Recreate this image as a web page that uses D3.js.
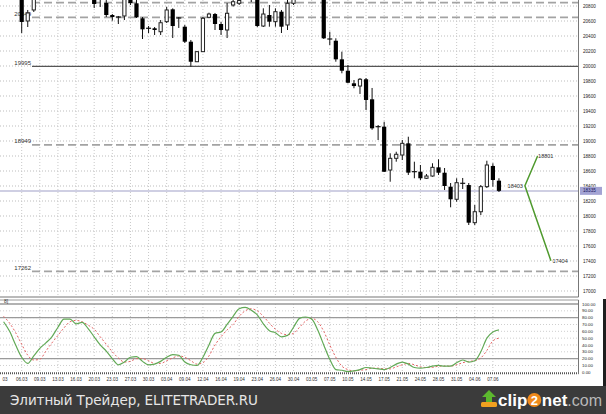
<!DOCTYPE html>
<html><head><meta charset="utf-8">
<script src="https://cdn.jsdelivr.net/npm/d3@7"></script>
<style>html,body{margin:0;padding:0;background:#fff;}svg{display:block;}</style>
</head><body>
<svg id="c" width="606" height="414"></svg>
<script>
// ---------- DATA (bar index 0..82; null = bar outside the visible price range) ----------
const openV  = [null,null,null,20950,20600,20747,null,null,null,null,null,null,null,null,null,20920,20930,20840,20680,20653,20667,20950,20836,20636,20503,20503,20457,20591,20756,20640,20524,20324,20057,20191,20649,20693,20560,20480,20813,20836,null,20950,20930,20533,20680,20591,20724,20547,20836,null,null,null,null,21000,20360,20337,20089,19937,19769,19733,19823,19556,19191,19191,18613,18769,18813,18969,18591,18591,18503,18533,18649,18577,18391,18223,18436,18413,17911,18057,18391,18667,18471];
const highV  = [null,null,null,21000,20747,20950,null,null,null,null,null,null,null,null,null,20960,20960,20880,20693,20667,20940,20980,20880,20653,20533,20520,20613,20787,20769,20653,20547,20347,20200,20653,20711,20707,20587,20840,20880,20900,null,20980,20960,20769,20813,20769,20747,20880,20920,null,null,null,null,21050,20457,20369,20191,20013,19813,19840,19840,19707,19213,19257,18836,18857,19013,19057,18724,18680,18560,18703,18756,18640,18440,18503,18507,18440,18147,18413,18737,18703,18503];
const lowV   = [null,null,null,20440,20520,20720,null,null,null,null,null,null,null,null,null,20773,20787,20653,20604,20560,20613,20813,20640,20360,20440,20413,20413,20573,20373,20507,20307,19991,20053,20187,20636,20480,20413,20373,20791,20813,null,20853,20520,20520,20524,20524,20440,20480,20813,null,null,null,null,20360,20280,20057,19903,19769,19703,19627,19413,19150,19013,18587,18457,18724,18747,18547,18503,18480,18493,18524,18547,18347,18116,18191,18360,17880,17880,18013,18373,18391,18320];
const closeV = [null,null,null,20587,20707,20900,null,null,null,null,null,null,null,null,null,20827,20900,20680,20653,20647,20900,20840,20649,20489,20496,20480,20577,20747,20533,20633,20324,20057,20191,20636,20693,20560,20480,20703,20857,20873,null,20920,20533,20693,20591,20724,20524,20836,20890,null,null,null,null,20369,20353,20089,19937,19777,19733,19823,19547,19169,19197,18590,18769,18823,18969,18578,18583,18503,18533,18649,18577,18400,18223,18444,18429,17911,18057,18391,18680,18480,18335];

const stochMain = [74,60,40,22,13,24,35,43,52,66, 78,78,71,73,64,52,40,31,20,11, 15,22,23,16,11,12,16,22,26,25, 15,11,10,22,40,57,59,70,82,93, 95,91,84,71,61,58,52,54,66,79, 81,78,62,40,19,4,3,1,2,4, 7,6,5,4,7,12,15,12,7,6, 7,9,10,9,9,14,18,15,17,30, 50,59,62];
const stochSignal = [82,72,58,41,25,18,19,31,43,54, 65,74,76,74,69,63,52,41,30,21, 15,16,20,20,17,13,13,17,21,24, 22,17,12,14,24,40,52,62,70,82, 90,93,90,82,72,63,57,55,57,66, 75,79,74,60,40,22,9,4,2,3, 4,6,6,5,5,8,11,13,11,8, 7,7,9,9,9,11,14,16,17,21, 32,46,50];

// date labels, one every 3 bars starting at bar 0 (first one is shown truncated in the source)
const dateLabels = ["03","06.03","09.03","13.03","16.03","20.03","23.03","27.03","30.03","03.04","09.04","12.04","16.04","19.04","23.04","26.04","30.04","03.05","07.05","10.05","14.05","17.05","21.05","24.05","28.05","31.05","04.06","07.06"];
const priceTicks = [17000,17200,17400,17600,17800,18000,18200,18400,18600,18800,19000,19200,19400,19600,19800,20000,20200,20400,20600,20800];
const stochTicks = [0,10,20,30,40,50,60,70,80,90,100];
const stochLevels = [20,80];
const dashedLevels = [20844,20649,18949,17262];
const dashedLabels = ["","20649","18949","17262"];
const solidLevels = [19995];
const currentPrice = 18335;
const projBars = [86.3, 88.4, 90.6];
const projValues = [18403, 18801, 17404];

// ---------- SCALES ----------
const svg = d3.select("#c");
const FONT = "Liberation Sans, Arial, sans-serif";
const x = d3.scaleLinear().domain([3, 81]).range([21.7, 492.9]);
const y = d3.scaleLinear().domain([17000, 20000]).range([291, 66]);
const ys = d3.scaleLinear().domain([0, 100]).range([372.3, 304]);
const PR = 578.5; // plot right edge

svg.append("rect").attr("width",606).attr("height",414).attr("fill","#fff");

const defs = svg.append("defs");
defs.append("clipPath").attr("id","mainClip").append("rect").attr("x",0).attr("y",0).attr("width",PR).attr("height",296);
defs.append("clipPath").attr("id","subClip").append("rect").attr("x",0).attr("y",300).attr("width",PR).attr("height",74);

const main = svg.append("g").attr("clip-path","url(#mainClip)");

// grid
main.selectAll(".hg").data(priceTicks).join("line")
  .attr("x1",0).attr("x2",PR).attr("y1",d=>y(d)).attr("y2",d=>y(d))
  .attr("stroke","#bdbdbd").attr("stroke-width",1).attr("stroke-dasharray","1,2");
const tickBars = dateLabels.map((d,i)=>i*3);
main.selectAll(".vg").data(tickBars.slice(1)).join("line")
  .attr("x1",d=>x(d)).attr("x2",d=>x(d)).attr("y1",0).attr("y2",296)
  .attr("stroke","#c8c8c8").attr("stroke-width",1).attr("stroke-dasharray","1,2");

// current price line
main.append("line").attr("x1",0).attr("x2",PR).attr("y1",y(currentPrice)).attr("y2",y(currentPrice))
  .attr("stroke","#cfcfe3").attr("stroke-width",2);

// level lines
main.selectAll(".dl").data(dashedLevels).join("line")
  .attr("x1",32).attr("x2",PR).attr("y1",d=>y(d)).attr("y2",d=>y(d))
  .attr("stroke","#a3a3a3").attr("stroke-width",1.8).attr("stroke-dasharray","8,4");
main.selectAll(".sl").data(solidLevels).join("line")
  .attr("x1",32).attr("x2",PR).attr("y1",d=>y(d)).attr("y2",d=>y(d))
  .attr("stroke","#555").attr("stroke-width",1.2);
main.selectAll(".dlt").data(dashedLevels).join("text")
  .attr("x",31).attr("y",d=>y(d)-1.8).attr("text-anchor","end")
  .attr("font-family",FONT).attr("font-size",6).attr("fill","#333").text((d,i)=>dashedLabels[i]);
main.selectAll(".slt").data(solidLevels).join("text")
  .attr("x",31).attr("y",d=>y(d)-1.8).attr("text-anchor","end")
  .attr("font-family",FONT).attr("font-size",6).attr("fill","#333").text(d=>d);

// candles
const candles = d3.range(openV.length).filter(i=>openV[i]!=null)
  .map(i=>({k:i,o:openV[i],h:highV[i],l:lowV[i],c:closeV[i]}));
const cg = main.append("g");
cg.selectAll(".wick").data(candles).join("line")
  .attr("x1",d=>x(d.k)).attr("x2",d=>x(d.k)).attr("y1",d=>y(d.h)).attr("y2",d=>y(d.l))
  .attr("stroke","#111").attr("stroke-width",1);
candles.forEach(d=>{
  const yo=y(d.o), yc=y(d.c), cx=x(d.k);
  if (Math.abs(yo-yc) < 1.2) {
    cg.append("line").attr("x1",cx-2.5).attr("x2",cx+2.5).attr("y1",yo).attr("y2",yo)
      .attr("stroke","#111").attr("stroke-width",1.2);
  } else if (d.c > d.o) {
    cg.append("rect").attr("x",cx-1.6).attr("y",yc).attr("width",3.2).attr("height",yo-yc)
      .attr("fill","#fff").attr("stroke","#222").attr("stroke-width",1);
  } else {
    cg.append("rect").attr("x",cx-2.1).attr("y",yo).attr("width",4.2).attr("height",yc-yo)
      .attr("fill","#000");
  }
});

// projection lines
const proj = projBars.map((b,i)=>({b:b,v:projValues[i]}));
const pline = d3.line().x(d=>x(d.b)).y(d=>y(d.v));
main.append("path").attr("d",pline([proj[1],proj[0],proj[2]]))
  .attr("fill","none").attr("stroke","#4f9a2e").attr("stroke-width",1.5);
main.append("text").attr("x",x(proj[0].b)-2).attr("y",y(proj[0].v)+2).attr("text-anchor","end")
  .attr("font-family",FONT).attr("font-size",5.5).attr("fill","#333").text(proj[0].v);
main.append("text").attr("x",x(proj[1].b)+0.5).attr("y",y(proj[1].v)+2)
  .attr("font-family",FONT).attr("font-size",5.5).attr("fill","#333").text(proj[1].v);
main.append("text").attr("x",x(proj[2].b)+1.5).attr("y",y(proj[2].v)+2)
  .attr("font-family",FONT).attr("font-size",5.5).attr("fill","#333").text(proj[2].v);

// right price axis
svg.append("line").attr("x1",PR).attr("x2",PR).attr("y1",0).attr("y2",297).attr("stroke","#777").attr("stroke-width",1);
svg.selectAll(".pt").data(priceTicks).join("text")
  .attr("x",583).attr("y",d=>y(d)+1.6)
  .attr("font-family",FONT).attr("font-size",4.6).attr("fill","#222").text(d=>d);
svg.append("rect").attr("x",580).attr("y",y(currentPrice)-4).attr("width",22).attr("height",8).attr("fill","#a3a3d3");
svg.append("text").attr("x",583).attr("y",y(currentPrice)+1.6)
  .attr("font-family",FONT).attr("font-size",4.6).attr("fill","#14145a").text(currentPrice);

// separators
svg.append("line").attr("x1",0).attr("x2",PR).attr("y1",297).attr("y2",297).attr("stroke","#777").attr("stroke-width",1.2);
svg.append("line").attr("x1",0).attr("x2",PR).attr("y1",300).attr("y2",300).attr("stroke","#9a9a9a").attr("stroke-width",1);

// ---------- STOCHASTIC PANEL ----------
const sub = svg.append("g").attr("clip-path","url(#subClip)");
sub.selectAll(".shg").data(stochTicks.filter(d=>d>0 && d<100)).join("line")
  .attr("x1",0).attr("x2",PR).attr("y1",d=>ys(d)).attr("y2",d=>ys(d))
  .attr("stroke","#cfcfcf").attr("stroke-width",1).attr("stroke-dasharray","1,2");
sub.selectAll(".svg").data(tickBars.slice(1)).join("line")
  .attr("x1",d=>x(d)).attr("x2",d=>x(d)).attr("y1",304).attr("y2",372)
  .attr("stroke","#c8c8c8").attr("stroke-width",1).attr("stroke-dasharray","1,2");
sub.append("line").attr("x1",0).attr("x2",PR).attr("y1",ys(100)).attr("y2",ys(100)).attr("stroke","#999").attr("stroke-width",1.4);
sub.selectAll(".lev").data(stochLevels).join("line")
  .attr("x1",0).attr("x2",PR).attr("y1",d=>ys(d)).attr("y2",d=>ys(d))
  .attr("stroke","#9a9a9a").attr("stroke-width",1.4);
const sline = d3.line().x((d,i)=>x(i)).y(d=>ys(d)).curve(d3.curveMonotoneX);
sub.append("path").attr("d",sline(stochSignal)).attr("fill","none")
  .attr("stroke","#e46464").attr("stroke-width",1).attr("stroke-dasharray","2,2");
sub.append("path").attr("d",sline(stochMain)).attr("fill","none")
  .attr("stroke","#62a956").attr("stroke-width",1.2);
svg.append("text").attr("x",4).attr("y",303).attr("font-family",FONT).attr("font-size",5).attr("fill","#333").text("8]");

svg.append("line").attr("x1",0).attr("x2",PR).attr("y1",373.3).attr("y2",373.3)
  .attr("stroke","#555").attr("stroke-width",2).attr("stroke-dasharray","1,1");
svg.append("line").attr("x1",PR).attr("x2",PR).attr("y1",300).attr("y2",374).attr("stroke","#777").attr("stroke-width",1);
svg.selectAll(".st").data(stochTicks).join("text")
  .attr("x",582).attr("y",d=>ys(d)+1.6)
  .attr("font-family",FONT).attr("font-size",4.4).attr("fill","#222").text(d=>d3.format(".2f")(d));

// date labels
svg.selectAll(".dt").data(dateLabels).join("text")
  .attr("x",(d,i)=>i===0 ? x(tickBars[i])+1.5 : x(tickBars[i])).attr("y",380.5).attr("text-anchor","middle")
  .attr("font-family",FONT).attr("font-size",4.6).attr("fill","#333").text(d=>d);

// right dark border
svg.append("rect").attr("x",603).attr("y",299).attr("width",3).attr("height",88).attr("fill","#1e1e1e");

// ---------- FOOTER ----------
svg.append("rect").attr("x",0).attr("y",386).attr("width",606).attr("height",28).attr("fill","#3b3b3b");
svg.append("text").attr("x",10).attr("y",405).attr("font-family","DejaVu Sans, sans-serif")
  .attr("font-size",13.5).attr("fill","#e6e6e6").attr("textLength",248).attr("lengthAdjust","spacing")
  .text("Элитный Трейдер, ELITETRADER.RU");
// clip2net logo
const lg = svg.append("g");
lg.append("path").attr("d","M489,390 L496,397 L492,397 L492,403 L486,403 L486,397 L482,397 Z").attr("fill","#5cb82e");
lg.append("rect").attr("x",481).attr("y",402).attr("width",16).attr("height",5).attr("rx",1.5).attr("fill","#f0a020");
const t1 = lg.append("text").attr("x",498).attr("y",406).attr("font-family",FONT).attr("font-weight","bold")
  .attr("font-size",17).attr("fill","#fff").text("clip");
const w1 = t1.node().getComputedTextLength();
lg.append("circle").attr("cx",498+w1+7).attr("cy",400).attr("r",7).attr("fill","#f08a1c");
lg.append("text").attr("x",498+w1+7).attr("y",405).attr("text-anchor","middle").attr("font-family",FONT)
  .attr("font-weight","bold").attr("font-size",13).attr("fill","#fff").text("2");
const t2 = lg.append("text").attr("x",498+w1+14.5).attr("y",406).attr("font-family",FONT).attr("font-weight","bold")
  .attr("font-size",17).attr("fill","#fff").text("net");
const w2 = t2.node().getComputedTextLength();
lg.append("text").attr("x",498+w1+14.5+w2).attr("y",406).attr("font-family",FONT)
  .attr("font-size",16).attr("fill","#b8b8b8").text(".com");
</script>
</body></html>
